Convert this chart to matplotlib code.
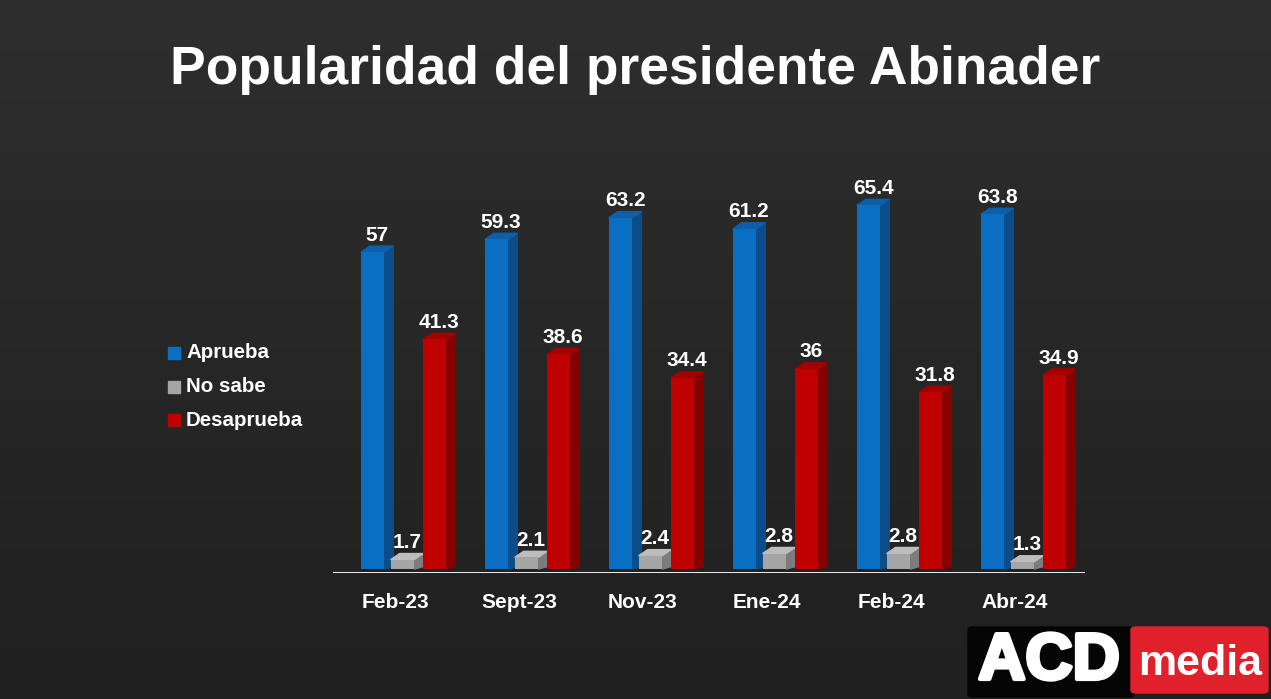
import numpy as np
import matplotlib
matplotlib.use("Agg")
import matplotlib.pyplot as plt
import matplotlib.patheffects as pe
from matplotlib.patches import Polygon, FancyBboxPatch

plt.rcParams['font.family'] = ['Liberation Sans', 'DejaVu Sans']

# data
periods = ['Feb-23', 'Sept-23', 'Nov-23', 'Ene-24', 'Feb-24', 'Abr-24']
aprueba = [57, 59.3, 63.2, 61.2, 65.4, 63.8]
no_sabe = [1.7, 2.1, 2.4, 2.8, 2.8, 1.3]
desaprueba = [41.3, 38.6, 34.4, 36, 31.8, 34.9]
series_names = ['Aprueba', 'No sabe', 'Desaprueba']

# front, side, top colours per series
palette = {
    'Aprueba': ('#0a6fc2', '#0a4d88', '#0c5fa8'),
    'No sabe': ('#a5a5a5', '#7c7c7c', '#bdbdbd'),
    'Desaprueba': ('#c00000', '#870000', '#a30000'),
}
offsets = [-0.18, 0.06, 0.32]
width = 0.19
dx, dy = 0.072, 1.1   # fake depth of the 3d bars

W, H = 1271, 699
fig = plt.figure(figsize=(W / 100, H / 100), dpi=100)
fig.patch.set_facecolor('#262626')

# subtle vertical gradient for the background
bg = fig.add_axes([0, 0, 1, 1])
grad = np.linspace(0, 1, 256).reshape(-1, 1)
bg.imshow(grad, aspect='auto', cmap=matplotlib.colors.LinearSegmentedColormap.from_list(
    'bg', ['#2e2e2e', '#202020']), extent=[0, 1, 0, 1])
bg.set_axis_off()

fig.text(0.5, 1 - 70 / H, 'Popularidad del presidente Abinader', color='white',
         fontsize=38.4, fontweight='bold', ha='center', va='center')

# main axes positioned in pixels
px_per_unit = 5.56
x0, x1 = 333, 1085
y_base = 573
ymin, ymax = -0.7, 75
ax = fig.add_axes([x0 / W, (H - y_base) / H, (x1 - x0) / W,
                   (ymax - ymin) * px_per_unit / H])
ax.set_xlim(-0.5, 5.565)
ax.set_ylim(ymin, ymax)
ax.set_facecolor('none')
for s in ax.spines.values():
    s.set_visible(False)
ax.set_yticks([])
ax.set_xticks([])
ax.axhline(ymin + 0.05, color='white', lw=1.3)

x = np.arange(len(periods))
for vals, name, off in zip([aprueba, no_sabe, desaprueba], series_names, offsets):
    front, side, top = palette[name]
    xs = x + off
    ax.bar(xs, vals, width=width, color=front, zorder=3)
    for xi, v in zip(xs, vals):
        l, r = xi - width / 2, xi + width / 2
        ax.add_patch(Polygon([(r, 0), (r + dx, dy * 0.4), (r + dx, v + dy), (r, v)],
                             closed=True, color=side, zorder=2))
        ax.add_patch(Polygon([(l, v), (r, v), (r + dx, v + dy), (l + dx, v + dy)],
                             closed=True, color=top, zorder=2))
        ax.annotate(f'{v:g}', (xi + dx / 2, v + dy), xytext=(0, 1),
                    textcoords='offset points', ha='center', va='bottom',
                    color='white', fontsize=15, fontweight='bold')

for xi, lab in zip(x, periods):
    fig.text((x0 + (xi + 0.5) / 6.065 * (x1 - x0)) / W, 1 - 602 / H, lab,
             color='white', fontsize=15, fontweight='bold', ha='center', va='center')

# legend
for i, name in enumerate(series_names):
    yy = 1 - (353 + i * 33.5) / H
    fig.patches.append(matplotlib.patches.Rectangle(
        (168 / W, yy - 6 / H), 12 / W, 12 / H, color=palette[name][0],
        transform=fig.transFigure, figure=fig))
    fig.text(186 / W, yy, name, color='white', fontsize=14.8, fontweight='bold',
             va='center', ha='left')

# ACD media logo
fig.patches.append(FancyBboxPatch((968 / W, 2 / H), 166 / W, 70 / H,
                                  boxstyle='round,pad=0,rounding_size=0.004',
                                  color='#050505', transform=fig.transFigure, figure=fig))
fig.patches.append(FancyBboxPatch((1131 / W, 6 / H), 137 / W, 66 / H,
                                  boxstyle='round,pad=0,rounding_size=0.004',
                                  color='#e0212b', transform=fig.transFigure, figure=fig))
fig.text(1049 / W, 1 - 662 / H, 'ACD', color='white', fontsize=47,
         fontweight='bold', ha='center', va='center',
         path_effects=[pe.withStroke(linewidth=3, foreground='white')])
fig.text(1200 / W, 1 - 664 / H, 'media', color='white', fontsize=31,
         fontweight='bold', ha='center', va='center')

fig.savefig('out.png', dpi=100, facecolor=fig.get_facecolor())
